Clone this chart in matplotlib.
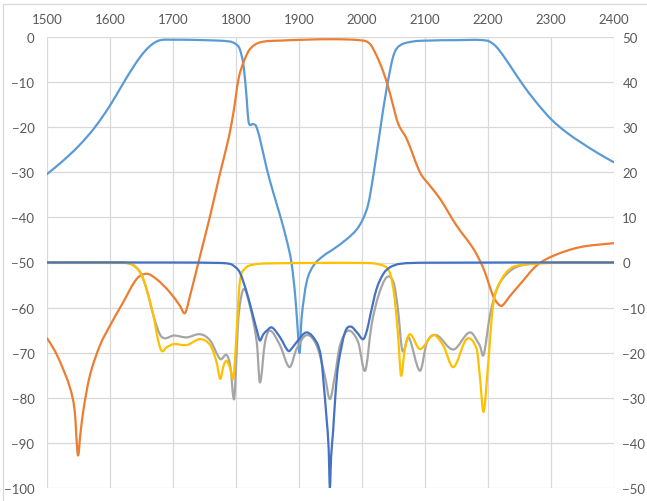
import matplotlib
matplotlib.use("Agg")
import matplotlib.pyplot as plt
from matplotlib.patches import Rectangle, PathPatch
from matplotlib.path import Path

plt.rcParams['font.family'] = ['Lato', 'DejaVu Sans']

# ---- data (frequency in MHz, values in dB) ----
# light blue, left axis
f_lb = [1500,1525,1550,1575,1600,1620,1640,1655,1668,1680,1700,1750,1790,1800,1806,1812,1817,1820,1827,1832,1838,1849,1859,1870,1880,1888,1894,1898,1901,1904,1912,1923,1939,1955,1976,1992,2002,2010,2018,2029,2039,2050,2060,2081,2103,2150,2198,2212,2225,2240,2255,2275,2300,2325,2350,2375,2400]
v_lb = [-30.4,-27.5,-24.2,-20.2,-15.2,-10.5,-6,-3.2,-1.5,-0.7,-0.6,-0.7,-1.0,-1.6,-2.7,-6.4,-13.7,-18.9,-19.3,-19.8,-22.6,-29.3,-34.4,-39.6,-44.8,-50,-57.4,-65,-70,-62.5,-54.4,-50.7,-48.5,-47,-44.8,-42.6,-40.2,-37,-30.7,-20.4,-11.5,-4.1,-1.9,-1.0,-0.8,-0.7,-0.8,-2.0,-4.3,-7.4,-10.5,-14.2,-18.2,-21.2,-23.6,-25.8,-27.8]

# orange, left axis
f_or = [1500,1510,1521,1537,1544,1549,1553,1558,1568,1584,1600,1621,1642,1658,1674,1695,1711,1719,1727,1743,1759,1775,1788,1796,1804,1812,1822,1838,1870,1950,2002,2013,2023,2034,2044,2055,2060,2071,2092,2108,2124,2150,2177,2193,2208,2215,2222,2235,2251,2277,2304,2346,2400]
v_or = [-66.8,-69,-72.1,-78,-83,-92.7,-88,-82.5,-75.1,-68.4,-64,-58.8,-53.7,-52.5,-53.7,-56.6,-59.6,-61.2,-57.4,-48.5,-39.6,-30,-22.6,-16.7,-9.3,-5.6,-2.7,-1.2,-0.8,-0.5,-0.8,-1.6,-4.1,-7.8,-12.3,-18.2,-20,-22.6,-30,-33,-35.9,-41.8,-47,-51.4,-57.4,-59,-59.6,-57.4,-54.8,-50.7,-48.5,-46.6,-45.7]

# gray, right axis
f_gr = [1500,1600,1632,1648,1658,1669,1679,1687,1701,1722,1743,1759,1775,1785,1791,1797,1801,1804,1812,1822,1833,1838,1846,1854,1870,1885,1896,1912,1928,1941,1949,1957,1965,1978,1994,2005,2015,2026,2039,2050,2057,2064,2074,2092,2103,2118,2145,2171,2187,2193,2203,2214,2230,2251,2300,2400]
v_gr = [0,0,-0.3,-2.2,-5.9,-11.8,-15.9,-16.8,-16.2,-16.6,-15.9,-17.3,-21.4,-20.5,-23,-30.3,-20,-11.8,-5.9,-9.6,-17.7,-26.6,-17.7,-15.1,-18.4,-23.2,-19.2,-16.1,-18.4,-25.1,-30.3,-25.1,-18.4,-15.1,-17.7,-24,-14,-7.4,-3.3,-4.4,-10.3,-19.5,-16.6,-24,-17.7,-16.1,-19.3,-15.5,-18.4,-20.5,-11.8,-5.9,-2.5,-0.7,-0.05,0]

# yellow, right axis
f_ye = [1500,1600,1632,1648,1658,1669,1676,1682,1690,1701,1722,1743,1759,1769,1775,1780,1785,1791,1796,1801,1806,1814,1827,1850,2000,2029,2044,2052,2058,2062,2068,2076,2092,2113,2129,2145,2166,2182,2187,2193,2200,2208,2219,2235,2251,2300,2400]
v_ye = [0,-0.1,-0.3,-2.2,-5.9,-11.8,-17,-19.6,-18.8,-18.1,-18.3,-17,-18.3,-22,-25.8,-23,-21.8,-23.5,-25.5,-15.5,-4.4,-1.4,-0.5,-0.2,-0.1,-0.5,-2.2,-8.1,-17.7,-25.1,-19.2,-15.9,-19.2,-16.1,-18.4,-23.2,-17,-19.2,-25.1,-33.1,-22.9,-9.6,-4.4,-1.4,-0.6,-0.1,0]

# dark blue, right axis
f_db = [1500,1700,1775,1790,1796,1806,1817,1827,1834,1838,1843,1849,1857,1870,1883,1890,1896,1912,1928,1935,1939,1944,1947,1949,1951,1954,1958,1962,1973,1982,1992,2002,2008,2013,2023,2034,2044,2060,2100,2400]
v_db = [0,0,-0.1,-0.3,-0.7,-2.2,-6.6,-11.8,-15.5,-17.3,-16,-15.1,-14.4,-16.6,-19.6,-18.8,-17.7,-15.5,-17.7,-21,-26.6,-35,-41,-49.9,-43,-37.7,-29,-22.9,-15.5,-14.2,-15.5,-17,-15,-11.8,-5.9,-2.5,-1.1,-0.3,-0.05,0]

x_ticks = [1500,1600,1700,1800,1900,2000,2100,2200,2300,2400]
left_ticks = [0,-10,-20,-30,-40,-50,-60,-70,-80,-90,-100]
right_ticks = [50,40,30,20,10,0,-10,-20,-30,-40,-50]

C_LB = '#5B9BD5'
C_OR = '#ED7D31'
C_GR = '#A5A5A5'
C_YE = '#FFC000'
C_DB = '#4472C4'
GRID = '#D9D9D9'
TXT = '#595959'


def smooth_line(a, xs, ys, color, lw=1.6):
    """Draw a smoothed (Bezier) line through the data points, like a
    spreadsheet 'smoothed line' chart."""
    n = len(xs)
    m = []
    for i in range(n):
        if i == 0:
            m.append((ys[1] - ys[0]) / (xs[1] - xs[0]))
        elif i == n - 1:
            m.append((ys[-1] - ys[-2]) / (xs[-1] - xs[-2]))
        else:
            m.append((ys[i + 1] - ys[i - 1]) / (xs[i + 1] - xs[i - 1]))
    verts = [(xs[0], ys[0])]
    codes = [Path.MOVETO]
    for i in range(n - 1):
        dx = xs[i + 1] - xs[i]
        c1 = (xs[i] + dx / 3, ys[i] + m[i] * dx / 3)
        c2 = (xs[i + 1] - dx / 3, ys[i + 1] - m[i + 1] * dx / 3)
        verts += [c1, c2, (xs[i + 1], ys[i + 1])]
        codes += [Path.CURVE4] * 3
    patch = PathPatch(Path(verts, codes), facecolor='none', edgecolor=color,
                      lw=lw, joinstyle='round', capstyle='round',
                      transform=a.transData)
    a.add_patch(patch)


fig = plt.figure(figsize=(6.47, 5.02), dpi=100)
ax = fig.add_axes([47/647, 1-489/502, (614-47)/647, (489-38)/502])
ax2 = ax.twinx()

smooth_line(ax, f_lb, v_lb, C_LB)
smooth_line(ax, f_or, v_or, C_OR)
smooth_line(ax2, f_gr, v_gr, C_GR)
smooth_line(ax2, f_ye, v_ye, C_YE)
smooth_line(ax2, f_db, v_db, C_DB)

ax.set_xlim(1500, 2400)
ax.set_ylim(-100, 0)
ax2.set_ylim(-50, 50)

ax.xaxis.tick_top()
ax.set_xticks(x_ticks)
ax.set_yticks(left_ticks)
ax2.set_yticks(right_ticks)

for a in (ax, ax2):
    for s in a.spines.values():
        s.set_visible(False)
    a.tick_params(length=0, colors=TXT, labelsize=9.5)
ax.tick_params(axis='x', pad=9)
ax.tick_params(axis='y', pad=9)
ax2.tick_params(axis='y', pad=6)

ax.grid(True, color=GRID, lw=0.9)
ax.set_axisbelow(True)

# outer chart border (top & left visible)
fig.patches.append(Rectangle((2.5/647, -0.1), 1.2, 1 - 4.5/502 + 0.1,
                             transform=fig.transFigure, fill=False,
                             edgecolor='#D9D9D9', lw=0.9))

fig.savefig('out.png', dpi=100)
